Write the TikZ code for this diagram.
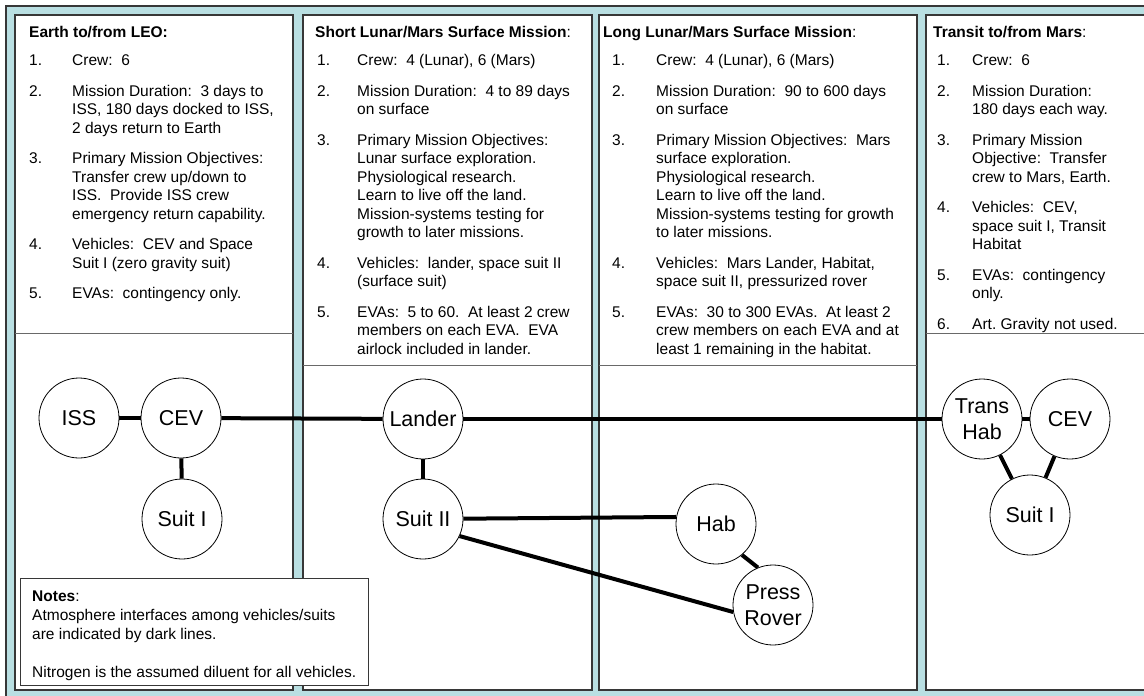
\documentclass[tikz,border=0pt]{standalone}
\usepackage{fontspec}
\setmainfont{Liberation Sans}
\definecolor{frameblue}{RGB}{185,223,226}
\definecolor{edgegray}{RGB}{55,55,55}
\newcommand{\bodyfont}{\fontsize{15.5}{18.5}\selectfont}
\newcommand{\vehfont}{\fontsize{21.5}{26}\selectfont}
\frenchspacing

\begin{document}
\begin{tikzpicture}[x=1pt, y=-1pt,
  panelbox/.style={draw=edgegray, fill=white, line width=1.2pt},
  splitline/.style={draw=edgegray!75, line width=1pt},
  headtext/.style={anchor=base west, inner sep=0pt, font=\bodyfont},
  itemlist/.style={anchor=north west, inner sep=0pt, font=\bodyfont},
  vehicle/.style={circle, draw, fill=white, line width=0.8pt, minimum size=80pt, inner sep=0pt, align=center, font=\vehfont},
  iface/.style={line width=4pt}
]
  \useasboundingbox (0,0) rectangle (1144,696);
  \clip (0,0) rectangle (1144,696);
  \fill[white] (0,0) rectangle (1144,696);
  \draw[fill=frameblue, draw=edgegray, line width=2pt] (6,6) rectangle (1160,710);

  \draw[panelbox] (15,15) rectangle (293,690);
  \draw[panelbox] (303,15) rectangle (592,690);
  \draw[panelbox] (599,15) rectangle (917,690);
  \draw[panelbox] (926,15) rectangle (1160,690);
  \draw[splitline] (15,333) -- (293,333);
  \draw[splitline] (303,365) -- (592,365);
  \draw[splitline] (599,365) -- (917,365);
  \draw[splitline] (926,333) -- (1160,333);

  \node[headtext] (leohead) at (29,37.5) {\textbf{Earth to/from LEO:}};
  \node[itemlist] (leolist) at (29,52.5) {\begin{tabular}{@{}p{43pt}@{}l@{}}
    1. & Crew:~~6\\[12pt]
    2. & Mission Duration:~~3 days to\\
       & ISS, 180 days docked to ISS,\\
       & 2 days return to Earth\\[12pt]
    3. & Primary Mission Objectives:\\
       & Transfer crew up/down to\\
       & ISS.~~Provide ISS crew\\
       & emergency return capability.\\[12pt]
    4. & Vehicles:~~CEV and Space\\
       & Suit I (zero gravity suit)\\[12pt]
    5. & EVAs:~~contingency only.
  \end{tabular}};

  \node[headtext] (shorthead) at (315,37.5) {\textbf{Short Lunar/Mars Surface Mission}:};
  \node[itemlist] (shortlist) at (317,52.5) {\begin{tabular}{@{}p{40pt}@{}l@{}}
    1. & Crew:~~4 (Lunar), 6 (Mars)\\[12pt]
    2. & Mission Duration:~~4 to 89 days\\
       & on surface\\[12pt]
    3. & Primary Mission Objectives:\\
       & Lunar surface exploration.\\
       & Physiological research.\\
       & Learn to live off the land.\\
       & Mission-systems testing for\\
       & growth to later missions.\\[12pt]
    4. & Vehicles:~~lander, space suit II\\
       & (surface suit)\\[12pt]
    5. & EVAs:~~5 to 60.~~At least 2 crew\\
       & members on each EVA.~~EVA\\
       & airlock included in lander.
  \end{tabular}};

  \node[headtext] (longhead) at (603,37.5) {\textbf{Long Lunar/Mars Surface Mission}:};
  \node[itemlist] (longlist) at (612,52.5) {\begin{tabular}{@{}p{44pt}@{}l@{}}
    1. & Crew:~~4 (Lunar), 6 (Mars)\\[12pt]
    2. & Mission Duration:~~90 to 600 days\\
       & on surface\\[12pt]
    3. & Primary Mission Objectives:~~Mars\\
       & surface exploration.\\
       & Physiological research.\\
       & Learn to live off the land.\\
       & Mission-systems testing for growth\\
       & to later missions.\\[12pt]
    4. & Vehicles:~~Mars Lander, Habitat,\\
       & space suit II, pressurized rover\\[12pt]
    5. & EVAs:~~30 to 300 EVAs.~~At least 2\\
       & crew members on each EVA and at\\
       & least 1 remaining in the habitat.
  \end{tabular}};

  \node[headtext] (transhead) at (933,37.5) {\textbf{Transit to/from Mars}:};
  \node[itemlist] (translist) at (937,52.5) {\begin{tabular}{@{}p{35pt}@{}l@{}}
    1. & Crew:~~6\\[12pt]
    2. & Mission Duration:\\
       & 180 days each way.\\[12pt]
    3. & Primary Mission\\
       & Objective:~~Transfer\\
       & crew to Mars, Earth.\\[12pt]
    4. & Vehicles:~~CEV,\\
       & space suit I, Transit\\
       & Habitat\\[12pt]
    5. & EVAs:~~contingency\\
       & only.\\[12pt]
    6. & Art. Gravity not used.
  \end{tabular}};

  \node[draw=edgegray, fill=white, line width=1pt, minimum width=348pt, minimum height=107pt, anchor=north west, inner sep=0pt] (notes) at (20,578) {};
  \node[itemlist, font=\fontsize{15.5}{19}\selectfont] (notestxt) at (32,588) {\begin{tabular}{@{}l@{}}
    \textbf{Notes}:\\
    Atmosphere interfaces among vehicles/suits\\
    are indicated by dark lines.\\
    \\
    Nitrogen is the assumed diluent for all vehicles.
  \end{tabular}};

  \node[vehicle] (iss) at (79,418) {ISS};
  \node[vehicle] (cevA) at (181,418) {CEV};
  \node[vehicle] (suitA) at (182,519) {Suit I};
  \node[vehicle] (lander) at (423,419) {Lander};
  \node[vehicle] (suitB) at (423,519) {Suit II};
  \node[vehicle] (hab) at (716,524) {Hab};
  \node[vehicle] (rover) at (773,605) {Press\\Rover};
  \node[vehicle] (transhab) at (982,419) {Trans\\Hab};
  \node[vehicle] (cevB) at (1070,419) {CEV};
  \node[vehicle] (suitC) at (1030,515) {Suit I};

  \draw[iface] (iss) -- (cevA);
  \draw[iface] (cevA) -- (suitA);
  \draw[iface] (cevA) -- (lander);
  \draw[iface] (lander) -- (suitB);
  \draw[iface] (lander) -- (transhab);
  \draw[iface] (suitB) -- (hab.170);
  \draw[iface] (suitB.-25) -- (rover.190);
  \draw[iface] (hab.-50) -- (rover.112);
  \draw[iface] (transhab) -- (cevB);
  \draw[iface] (transhab) -- (suitC);
  \draw[iface] (cevB) -- (suitC);
\end{tikzpicture}
\end{document}
